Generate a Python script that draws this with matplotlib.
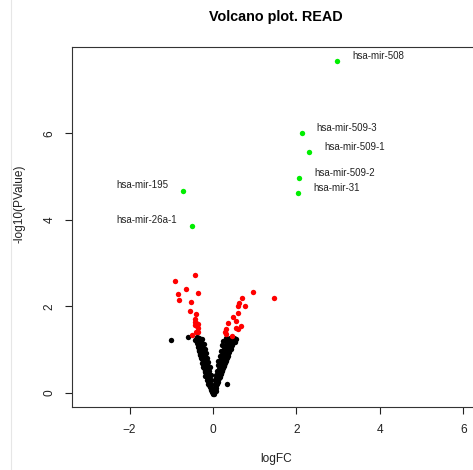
import matplotlib
matplotlib.use("Agg")
import matplotlib.pyplot as plt
from matplotlib.lines import Line2D

plt.rcParams['font.family'] = ['Liberation Sans', 'DejaVu Sans']

# not significant (black)
ns_logfc = [-0.02, -0.04, -0.06, -0.05, -0.08, -0.10, -0.07, -0.12, -0.09, -0.14,
            -0.11, -0.16, -0.13, -0.18, -0.15, -0.20, -0.17, -0.22, -0.19, -0.24,
            -0.21, -0.26, -0.23, -0.28, -0.25, -0.30, -0.27, -0.33, -0.29, -0.35,
            -0.31, -0.37, -0.33, -0.30, -0.27, -0.24, -0.21, -0.18, -0.15, -0.12,
            -0.09, -0.03, -0.36, -0.40, -0.38, -0.28, -0.20, -0.16, -0.13, -0.10,
            -0.08, -0.12, -0.15, -0.18, -0.20, -0.23, -0.26, -0.29, -0.31, -0.34,
            -0.36, -0.39, -0.42, -0.34, -0.26, -0.22, -0.19, -0.16, -0.14, -0.11,
            -0.08, -0.06, -0.04, -0.01, 0.00, -0.01,
            0.02, 0.04, 0.06, 0.05, 0.08, 0.10, 0.07, 0.12, 0.15, 0.11,
            0.17, 0.14, 0.19, 0.16, 0.21, 0.18, 0.24, 0.20, 0.26, 0.23,
            0.28, 0.25, 0.31, 0.27, 0.34, 0.30, 0.37, 0.33, 0.40, 0.36,
            0.43, 0.47, 0.52, 0.45, 0.42, 0.38, 0.35, 0.32, 0.29, 0.26,
            0.22, 0.20, 0.17, 0.13, 0.10, 0.03, 0.33, 0.30, 0.50, 0.55,
            0.07, 0.11, 0.14, 0.18, 0.21, 0.24, 0.27, 0.30, 0.33, 0.36,
            0.39, 0.42, 0.46, 0.49, 0.40, 0.25, 0.22, 0.19, 0.16, 0.13,
            0.11, 0.09, 0.07, 0.05, 0.01, 0.02, 0.06,
            -1.01, -0.61]
ns_logp = [0.02, 0.08, 0.12, 0.18, 0.22, 0.26, 0.30, 0.33, 0.38, 0.41,
           0.45, 0.50, 0.54, 0.58, 0.62, 0.66, 0.70, 0.74, 0.78, 0.82,
           0.86, 0.90, 0.94, 0.98, 1.02, 1.06, 1.10, 1.14, 1.18, 1.22,
           1.26, 1.10, 0.98, 0.88, 0.78, 0.68, 0.58, 0.48, 0.38, 0.28,
           0.18, 0.05, 1.18, 1.24, 1.30, 1.20, 0.90, 0.72, 0.62, 0.50,
           0.15, 0.22, 0.30, 0.40, 0.50, 0.60, 0.70, 0.80, 0.90, 1.00,
           1.06, 1.16, 1.22, 1.28, 1.24, 1.14, 1.02, 0.92, 0.82, 0.72,
           0.60, 0.42, 0.30, 0.10, 0.00, -0.03,
           0.03, 0.07, 0.13, 0.20, 0.24, 0.29, 0.34, 0.38, 0.42, 0.47,
           0.50, 0.55, 0.58, 0.63, 0.66, 0.71, 0.74, 0.79, 0.82, 0.87,
           0.90, 0.95, 0.98, 1.03, 1.05, 1.10, 1.12, 1.17, 1.20, 1.24,
           1.27, 1.22, 1.18, 1.10, 1.02, 0.94, 0.86, 0.78, 0.70, 0.62,
           0.54, 0.46, 0.38, 0.30, 0.22, 0.10, 0.20, 1.28, 1.28, 1.25,
           0.18, 0.26, 0.34, 0.44, 0.52, 0.58, 0.66, 0.74, 0.82, 0.90,
           0.98, 1.06, 1.14, 1.20, 1.28, 1.20, 1.10, 0.98, 0.86, 0.74,
           0.64, 0.52, 0.42, 0.30, 0.00, -0.02, 0.06,
           1.22, 1.29]

# significant (red)
sig_logfc = [-0.42, -0.90, -0.65, -0.37, -0.84, -0.81, -0.53, -0.54, -0.41, -0.42,
             -0.44, -0.40, -0.37, -0.43, -0.38, -0.36, -0.40, -0.36, -0.51,
             0.95, 1.46, 0.70, 0.63, 0.61, 0.77, 0.60, 0.47, 0.35, 0.54,
             0.66, 0.61, 0.55, 0.31, 0.28, 0.31, 0.45]
sig_logp = [2.72, 2.59, 2.41, 2.32, 2.28, 2.14, 2.11, 1.89, 1.82, 1.70,
            1.65, 1.62, 1.60, 1.58, 1.56, 1.50, 1.42, 1.42, 1.34,
            2.34, 2.19, 2.20, 2.07, 2.00, 2.02, 1.84, 1.75, 1.62, 1.66,
            1.56, 1.47, 1.50, 1.49, 1.42, 1.36, 1.33]

# labelled top hits (green)
top_names = ["hsa-mir-508", "hsa-mir-509-3", "hsa-mir-509-1", "hsa-mir-509-2",
             "hsa-mir-31", "hsa-mir-195", "hsa-mir-26a-1"]
top_logfc = [2.97, 2.13, 2.30, 2.06, 2.04, -0.72, -0.50]
top_logp = [7.67, 6.00, 5.57, 4.97, 4.62, 4.66, 3.86]

fig = plt.figure(figsize=(4.73, 4.70), dpi=100)
ax = fig.add_axes([72 / 473, 63 / 470, 408 / 473, 360 / 470])

ax.scatter(ns_logfc, ns_logp, s=15, c="black", linewidths=0)
ax.scatter(sig_logfc, sig_logp, s=15, c="#ff0000", linewidths=0)
ax.scatter(top_logfc, top_logp, s=15, c="#00ee00", linewidths=0)

for name, x, y in zip(top_names, top_logfc, top_logp):
    if x > 0:
        ax.annotate(name, (x, y), xytext=(15, 5), textcoords="offset pixels",
                    fontsize=7, ha="left", va="center", color="#222222")
    else:
        ax.annotate(name, (x, y), xytext=(-15, 6), textcoords="offset pixels",
                    fontsize=7, ha="right", va="center", color="#222222")

ax.set_xlim(-3.38, 6.40)
ax.set_ylim(-0.32, 7.99)
ax.set_xticks([-2, 0, 2, 4, 6])
ax.set_yticks([0, 2, 4, 6])
ax.tick_params(direction="out", length=5, width=0.8, labelsize=8.6, pad=7,
               colors="#222222")
for lab in ax.get_yticklabels():
    lab.set_rotation(90)
    lab.set_va("center")
for sp in ax.spines.values():
    sp.set_linewidth(0.8)
    sp.set_color("#333333")

fig.text(275.5 / 473, 1 - 17 / 470, "Volcano plot. READ", ha="center", va="center",
         fontsize=10.4, fontweight="bold")
fig.text(276 / 473, 1 - 459 / 470, "logFC", ha="center", va="center", fontsize=8.6,
         color="#222222")
fig.text(20 / 473, 1 - 204 / 470, "-log10(PValue)", ha="center", va="center",
         rotation=90, fontsize=8.6, color="#222222")

# faint frame line at the left edge of the screenshot
fig.add_artist(Line2D([11 / 473, 11 / 473], [0, 1], color="#e6e6e6", lw=0.8))

fig.savefig("out.png", dpi=100)
